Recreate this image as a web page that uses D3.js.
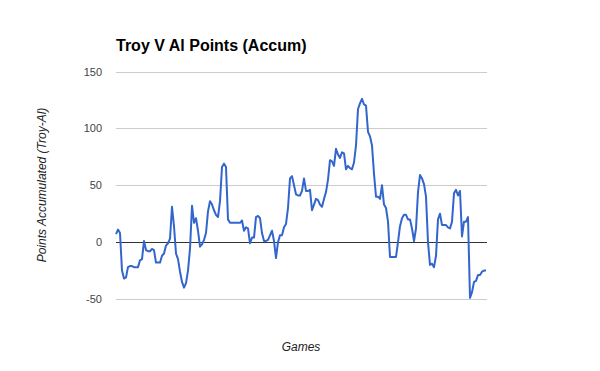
<!DOCTYPE html>
<html>
<head>
<meta charset="utf-8">
<script src="https://cdn.jsdelivr.net/npm/d3@7"></script>
<style>
  body { margin: 0; background: #fff; }
  svg { font-family: Arial, "Liberation Sans", sans-serif; }
</style>
</head>
<body>
<div id="chart"></div>
<script>
// accumulated points, one per game
let points = [
  7, 11, 8, -25, -32, -31, -22, -21, -21, -22, -22, -22, -16, -15, 1, -7, -8, -8, -6, -7,
  -18, -18, -18, -12, -10, -3, -1, 3, 31, 14, -10, -15, -26, -35, -40, -36, -25, -6, 32, 17,
  21, 10, -4, -2, 2, 8, 27, 36, 33, 28, 24, 22, 36, 66, 69, 66, 20, 17, 17, 17,
  17, 17, 17, 19, 10, 13, 12, -1, 4, 4, 22, 23, 21, 8, 1, 1, 2, 6, 10, 1,
  -14, 0, 6, 6, 13, 16, 30, 56, 58, 50, 42, 41, 41, 45, 56, 45, 45, 46, 28, 33,
  38, 37, 33, 31, 38, 44, 55, 72, 71, 67, 82, 77, 74, 79, 78, 64, 67, 65, 64, 70,
  85, 117, 122, 126, 121, 120, 97, 93, 85, 60, 40, 40, 38, 50, 33, 30, 18, -13, -13, -13,
  -13, 0, 14, 21, 24, 24, 20, 20, 12, 1, 12, 44, 59, 56, 51, 40, 0, -20, -19, -22,
  -12, 20, 25, 15, 15, 15, 13, 12, 18, 43, 46, 41, 45, 5, 18, 18, 22, -49, -44, -35,
  -34, -29, -29, -26, -25, -25
];
let yTicks = [-50, 0, 50, 100, 150];

let width = 600, height = 371;
let plotLeft = 116, plotRight = 487, plotTop = 71.5, plotBottom = 299;

let svg = d3.select('#chart').append('svg')
    .attr('width', width)
    .attr('height', height);

let x = d3.scaleLinear().domain([0, points.length - 1]).range([plotLeft, 486]);
let y = d3.scaleLinear().domain([-50, 150]).range([plotBottom, plotTop]);

// gridlines
svg.selectAll('line.grid')
    .data(yTicks)
    .enter()
    .append('line')
    .attr('class', 'grid')
    .attr('x1', plotLeft)
    .attr('x2', plotRight)
    .attr('y1', d => Math.round(y(d)) + 0.5)
    .attr('y2', d => Math.round(y(d)) + 0.5)
    .attr('stroke', d => d === 0 ? '#333' : '#ccc')
    .attr('stroke-width', 1);

// y tick labels
svg.selectAll('text.tick')
    .data(yTicks)
    .enter()
    .append('text')
    .attr('class', 'tick')
    .attr('x', 102)
    .attr('y', d => y(d) + 4)
    .attr('text-anchor', 'end')
    .attr('font-size', 11)
    .attr('fill', '#444')
    .text(d => d);

// the line
let line = d3.line()
    .x((d, i) => x(i))
    .y(d => y(d));

svg.append('path')
    .datum(points)
    .attr('d', line)
    .attr('fill', 'none')
    .attr('stroke', '#3366cc')
    .attr('stroke-width', 2)
    .attr('stroke-linejoin', 'round');

// title + axis titles
svg.append('text')
    .attr('x', plotLeft)
    .attr('y', 51)
    .attr('font-size', 16)
    .attr('font-weight', 'bold')
    .attr('fill', '#000')
    .text('Troy V Al Points (Accum)');

svg.append('text')
    .attr('transform', 'translate(46,185) rotate(-90)')
    .attr('text-anchor', 'middle')
    .attr('font-size', 12)
    .attr('font-style', 'italic')
    .attr('fill', '#222')
    .text('Points Accumulated (Troy-Al)');

svg.append('text')
    .attr('x', 301)
    .attr('y', 351)
    .attr('text-anchor', 'middle')
    .attr('font-size', 12)
    .attr('font-style', 'italic')
    .attr('fill', '#222')
    .text('Games');
</script>
</body>
</html>
